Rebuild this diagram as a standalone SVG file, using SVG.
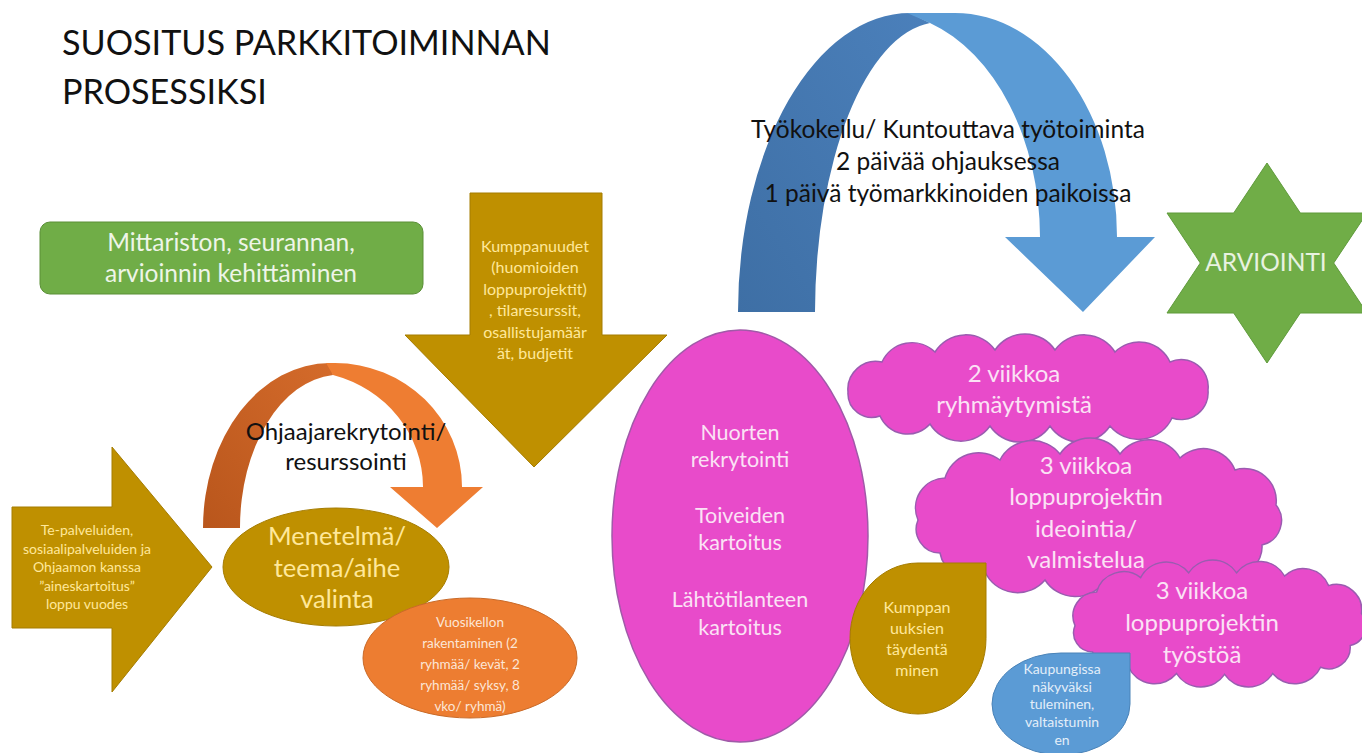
<svg xmlns="http://www.w3.org/2000/svg" width="1362" height="753" viewBox="0 0 1362 753">
  <defs>
    <style>
      .t { font-family: Lato, "Open Sans", "Liberation Sans", sans-serif; text-anchor: middle; }
      .gold { fill: #bf9000; stroke: #a57c00; stroke-width: 1; }
      .pink { fill: #e84bca; stroke: #a05aa8; stroke-width: 1.5; }
      .cloud { fill: #e84bca; stroke: #9a5cb0; stroke-width: 1.5; vector-effect: non-scaling-stroke; }
      .tgold { fill: #ffe89a; }
      .tpink { fill: #fbe2f5; }
      .tdark { fill: #111111; }
    </style>
    <linearGradient id="orDark" x1="0" y1="1" x2="1" y2="0">
      <stop offset="0" stop-color="#b9561c"/>
      <stop offset="1" stop-color="#d46b2b"/>
    </linearGradient>
    <linearGradient id="blDark" x1="0" y1="1" x2="1" y2="0">
      <stop offset="0" stop-color="#3e6fa5"/>
      <stop offset="1" stop-color="#4b80bb"/>
    </linearGradient>
  </defs>
  <rect width="1362" height="753" fill="#ffffff"/>

  <g id="title">
    <text class="t tdark" x="62" y="55" font-size="34.2" style="text-anchor:start">SUOSITUS PARKKITOIMINNAN</text>
    <text class="t tdark" x="62" y="104" font-size="34.2" style="text-anchor:start">PROSESSIKSI</text>
  </g>

  <g id="connectors">
    <g id="blue-curved-arrow">
      <path d="M 738 312 A 172 299 0 0 1 910 13 L 930 23 A 125 291 0 0 0 815 312 Z" fill="url(#blDark)"/>
      <path d="M 907 13 L 955 13 A 162 224 0 0 1 1117 237 L 1155 237 L 1083 312 L 1005 237 L 1040 237 A 160 226 0 0 0 930 23 Z" fill="#5b9bd5"/>
    </g>
    <g id="orange-curved-arrow">
      <path d="M 203 528 A 127 165 0 0 1 330 363 L 333 375 A 100 153 0 0 0 240 528 Z" fill="url(#orDark)"/>
      <path d="M 326 363 L 335 363 A 127 124 0 0 1 462 487 L 483 487 L 437 528 L 390 487 L 423 487 A 123 116 0 0 0 333 375 Z" fill="#ee7d32"/>
    </g>
  </g>

  <g id="label-tyokokeilu">
    <text class="t tdark" x="948" y="138" font-size="24.5">Työkokeilu/ Kuntouttava työtoiminta</text>
    <text class="t tdark" x="948" y="170" font-size="24.5">2 päivää ohjauksessa</text>
    <text class="t tdark" x="948" y="202" font-size="24.5">1 päivä työmarkkinoiden paikoissa</text>
  </g>
  <g id="label-ohjaaja">
    <text class="t tdark" x="346" y="440" font-size="24">Ohjaajarekrytointi/</text>
    <text class="t tdark" x="346" y="470" font-size="24">resurssointi</text>
  </g>

  <g id="node-mittaristo">
    <rect x="40" y="222" width="383" height="72" rx="10" fill="#70ad47" stroke="#5a8f37" stroke-width="1"/>
    <text class="t" x="231" y="251" font-size="24.5" fill="#eef5e8">Mittariston, seurannan,</text>
    <text class="t" x="231" y="282" font-size="24.5" fill="#eef5e8">arvioinnin kehittäminen</text>
  </g>

  <g id="node-kumppanuudet">
    <path class="gold" d="M 470 193 L 602 193 L 602 335 L 667 335 L 534 467 L 405 335 L 470 335 Z"/>
    <g class="t tgold" font-size="16">
      <text x="535" y="252">Kumppanuudet</text>
      <text x="535" y="273">(huomioiden</text>
      <text x="535" y="295">loppuprojektit)</text>
      <text x="535" y="316">, tilaresurssit,</text>
      <text x="535" y="338">osallistujamäär</text>
      <text x="535" y="359">ät, budjetit</text>
    </g>
  </g>

  <g id="node-te-palvelut">
    <path class="gold" d="M 12 507 L 112 507 L 112 447 L 212 567 L 112 692 L 112 628 L 12 628 Z"/>
    <g class="t tgold" font-size="14">
      <text x="87" y="535">Te-palveluiden,</text>
      <text x="87" y="553.5">sosiaalipalveluiden ja</text>
      <text x="87" y="572">Ohjaamon kanssa</text>
      <text x="87" y="590.5">”aineskartoitus”</text>
      <text x="87" y="609">loppu vuodes</text>
    </g>
  </g>

  <g id="node-menetelma">
    <ellipse class="gold" cx="336" cy="567" rx="113" ry="59"/>
    <g class="t tgold" font-size="25.5">
      <text x="337" y="545">Menetelmä/</text>
      <text x="337" y="577">teema/aihe</text>
      <text x="337" y="608">valinta</text>
    </g>
  </g>

  <g id="node-vuosikello">
    <ellipse cx="470" cy="658" rx="107" ry="60" fill="#ed7d31" stroke="#c96a28" stroke-width="1"/>
    <g class="t" font-size="13.5" fill="#fce6d6">
      <text x="470" y="627">Vuosikellon</text>
      <text x="470" y="648">rakentaminen (2</text>
      <text x="470" y="669">ryhmää/ kevät, 2</text>
      <text x="470" y="690">ryhmää/ syksy, 8</text>
      <text x="470" y="711">vko/ ryhmä)</text>
    </g>
  </g>

  <g id="node-nuorten-rekrytointi">
    <ellipse class="pink" cx="740" cy="536" rx="128" ry="206"/>
    <g class="t tpink" font-size="21.5">
      <text x="740" y="440">Nuorten</text>
      <text x="740" y="467">rekrytointi</text>
      <text x="740" y="523">Toiveiden</text>
      <text x="740" y="550">kartoitus</text>
      <text x="740" y="607">Lähtötilanteen</text>
      <text x="740" y="635">kartoitus</text>
    </g>
  </g>

  <g id="node-arviointi">
    <polygon points="1267,163 1300.3,213 1367,213 1333.7,263 1367,313 1300.3,313 1267,363 1233.7,313 1167,313 1200.3,263 1167,213 1233.7,213" fill="#70ad47" stroke="#5e9a3a" stroke-width="1"/>
    <text class="t" x="1266" y="271" font-size="24.5" fill="#e8f2e0">ARVIOINTI</text>
  </g>

  <g id="node-ryhmaytyminen">
    <path class="cloud" d="M 848 392 A 28 28 0 0 1 882 362 A 33 33 0 0 1 935 352 A 36 36 0 0 1 995 350 A 36 36 0 0 1 1055 350 A 36 36 0 0 1 1115 352 A 34 34 0 0 1 1170 362 A 27 27 0 0 1 1208 390 A 27 27 0 0 1 1172 418 A 37 37 0 0 1 1110 426 A 36 36 0 0 1 1050 426 A 36 36 0 0 1 990 426 A 36 36 0 0 1 930 424 A 30 30 0 0 1 880 416 A 24 24 0 0 1 848 392 Z"/>
    <g class="t tpink" font-size="24">
      <text x="1014" y="382">2 viikkoa</text>
      <text x="1014" y="413">ryhmäytymistä</text>
    </g>
  </g>

  <g id="node-ideointi">
    <path class="cloud" d="M 918 520 A 30 30 0 0 1 945 478 A 35 35 0 0 1 1000 460 A 36 36 0 0 1 1060 454 A 36 36 0 0 1 1120 454 A 36 36 0 0 1 1180 458 A 34 34 0 0 1 1235 470 A 32 32 0 0 1 1276 505 A 25 25 0 0 1 1262 545 A 27 27 0 0 1 1225 572 A 36 36 0 0 1 1165 580 A 36 36 0 0 1 1105 581 A 36 36 0 0 1 1045 580 A 36 36 0 0 1 985 572 A 29 29 0 0 1 940 553 A 24 24 0 0 1 918 520 Z"/>
    <g class="t tpink" font-size="24">
      <text x="1086" y="474">3 viikkoa</text>
      <text x="1086" y="505">loppuprojektin</text>
      <text x="1086" y="537">ideointia/</text>
      <text x="1086" y="568">valmistelua</text>
    </g>
  </g>

  <g id="node-kumppanuuksien-taydentaminen">
    <path class="gold" d="M 918 563 L 986 563 L 986 638.5 A 68 75.5 0 0 1 918 714 A 68 75.5 0 0 1 850 638.5 A 68 75.5 0 0 1 918 563 Z"/>
    <g class="t tgold" font-size="16">
      <text x="917" y="613">Kumppan</text>
      <text x="917" y="634">uuksien</text>
      <text x="917" y="655">täydentä</text>
      <text x="917" y="676">minen</text>
    </g>
  </g>

  <g id="node-tyosto">
    <path class="cloud" transform="translate(1075 560) scale(0.8) translate(-918 -438)" d="M 918 520 A 30 30 0 0 1 945 478 A 35 35 0 0 1 1000 460 A 36 36 0 0 1 1060 454 A 36 36 0 0 1 1120 454 A 36 36 0 0 1 1180 458 A 34 34 0 0 1 1235 470 A 32 32 0 0 1 1276 505 A 25 25 0 0 1 1262 545 A 27 27 0 0 1 1225 572 A 36 36 0 0 1 1165 580 A 36 36 0 0 1 1105 581 A 36 36 0 0 1 1045 580 A 36 36 0 0 1 985 572 A 29 29 0 0 1 940 553 A 24 24 0 0 1 918 520 Z"/>
    <g class="t tpink" font-size="24">
      <text x="1202" y="599">3 viikkoa</text>
      <text x="1202" y="631">loppuprojektin</text>
      <text x="1202" y="663">työstöä</text>
    </g>
  </g>

  <g id="node-kaupungissa">
    <path d="M 1061 653 L 1130 653 L 1130 704 A 69 51 0 0 1 1061 755 A 69 51 0 0 1 992 704 A 69 51 0 0 1 1061 653 Z" fill="#5b9bd5" stroke="#4a83b8" stroke-width="1"/>
    <g class="t" font-size="14" fill="#e3eef9">
      <text x="1062" y="674">Kaupungissa</text>
      <text x="1062" y="692">näkyväksi</text>
      <text x="1062" y="709">tuleminen,</text>
      <text x="1062" y="727">valtaistumin</text>
      <text x="1062" y="745">en</text>
    </g>
  </g>
</svg>
